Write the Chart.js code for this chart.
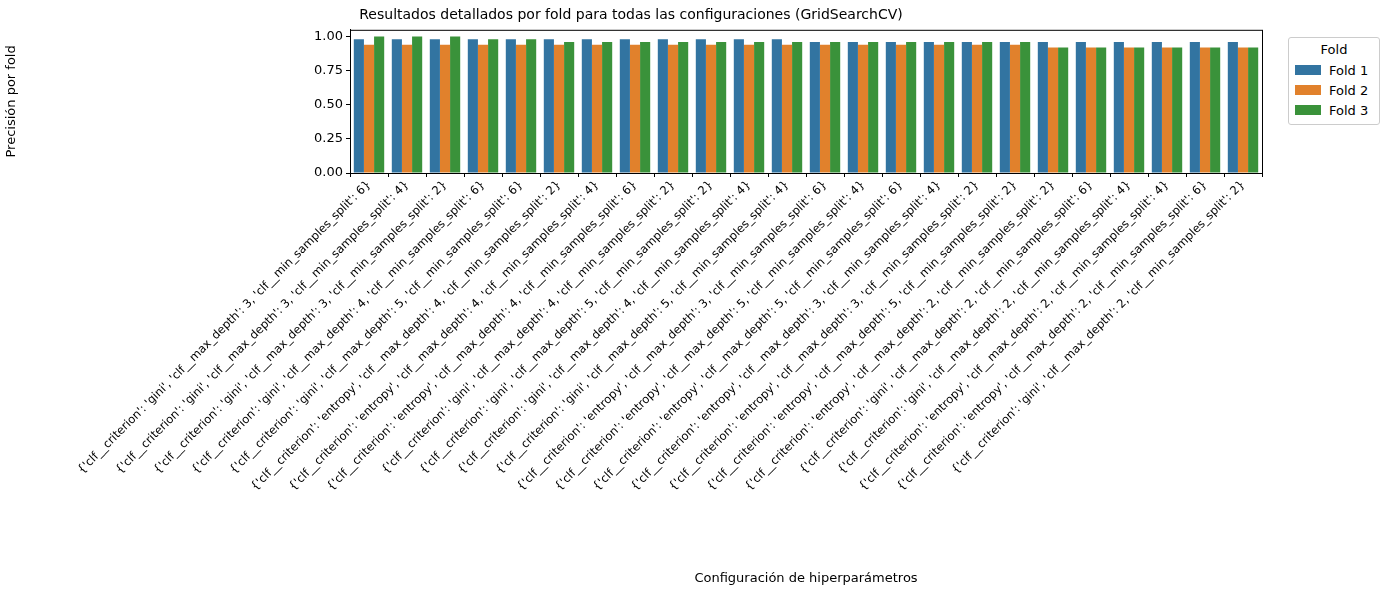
<!DOCTYPE html>
<html>
<head>
<meta charset="utf-8">
<script src="https://cdn.jsdelivr.net/npm/chart.js@4"></script>
<style>
  body { margin: 0; background: #fff; font-family: "DejaVu Sans", sans-serif; }
  #wrap { position: relative; width: 1390px; height: 590px; }
  #legend { position: absolute; left: 1288px; top: 37px; width: 92px; border: 1px solid #ccc; border-radius: 3px;
            font-size: 13px; padding: 4px 6px 4px 6px; box-sizing: border-box; background: #fff; }
  #legend .t { text-align: center; margin-bottom: 3px; }
  #legend .r { display: flex; align-items: center; height: 20px; }
  #legend .s { width: 26px; height: 10px; margin-right: 8px; }
</style>
</head>
<body>
<div id="wrap">
  <canvas id="c" width="1390" height="590"></canvas>
  <div id="legend"></div>
</div>
<script>
// configuraciones (orden del gráfico)
const criterios = ["gini","gini","gini","gini","gini","entropy","entropy","entropy","gini","gini","gini","gini",
                   "entropy","entropy","entropy","entropy","entropy","entropy","entropy","gini","gini","entropy","entropy","gini"];
const profundidades = [3,3,3,4,5,4,4,4,4,5,4,5,3,5,5,3,3,5,2,2,2,2,2,2];
const splits = [6,4,2,6,6,2,4,6,2,2,4,4,6,4,6,4,2,2,2,6,4,4,6,2];

const fold1 = [0.98,0.98,0.98,0.98,0.98,0.98,0.98,0.98,0.98,0.98,0.98,0.98,0.96,0.96,0.96,0.96,0.96,0.96,0.96,0.96,0.96,0.96,0.96,0.96];
const fold2 = [0.94,0.94,0.94,0.94,0.94,0.94,0.94,0.94,0.94,0.94,0.94,0.94,0.94,0.94,0.94,0.94,0.94,0.94,0.92,0.92,0.92,0.92,0.92,0.92];
const fold3 = [1.00,1.00,1.00,0.98,0.98,0.96,0.96,0.96,0.96,0.96,0.96,0.96,0.96,0.96,0.96,0.96,0.96,0.96,0.92,0.92,0.92,0.92,0.92,0.92];

const yTicks = [0, 0.25, 0.5, 0.75, 1.0];
const colores = ["#3274a1", "#e1812c", "#3a923a"];

const labels = criterios.map((c, i) =>
  "{'clf__criterion': '" + c + "', 'clf__max_depth': " + profundidades[i] + ", 'clf__min_samples_split': " + splits[i] + "}");

Chart.defaults.font.family = "DejaVu Sans";
Chart.defaults.font.size = 13;
Chart.defaults.color = "#000";

// leyenda en HTML, como la de matplotlib
const leg = document.getElementById("legend");
leg.innerHTML = '<div class="t">Fold</div>' + ["Fold 1","Fold 2","Fold 3"].map((n, i) =>
  '<div class="r"><span class="s" style="background:' + colores[i] + '"></span>' + n + '</div>').join("");

const ctx = document.getElementById("c").getContext("2d");
new Chart(ctx, {
  type: "bar",
  data: {
    labels: labels,
    datasets: [
      { label: "Fold 1", data: fold1, backgroundColor: colores[0] },
      { label: "Fold 2", data: fold2, backgroundColor: colores[1] },
      { label: "Fold 3", data: fold3, backgroundColor: colores[2] }
    ]
  },
  options: {
    responsive: false,
    animation: false,
    categoryPercentage: 0.8,
    barPercentage: 1.0,
    layout: { padding: { left: 0, right: 128, top: 0, bottom: 0 } },
    plugins: {
      legend: { display: false },
      tooltip: { enabled: false },
      title: { display: true, text: "Resultados detallados por fold para todas las configuraciones (GridSearchCV)",
               font: { size: 14, weight: "normal", lineHeight: 1.2 }, padding: { top: 7, bottom: 6 } }
    },
    scales: {
      x: {
        border: { color: "#000", width: 1 },
        grid: { drawOnChartArea: false, tickLength: 4, color: "#000" },
        ticks: { autoSkip: false, maxRotation: 45, minRotation: 45, padding: 1, font: { size: 11.6 } },
        title: { display: true, text: "Configuración de hiperparámetros", padding: { top: 0, bottom: 4 } },
        afterFit: axis => { axis.height = 417; }
      },
      y: {
        min: 0, max: 1.05,
        afterBuildTicks: axis => { axis.ticks = yTicks.map(v => ({ value: v })); },
        border: { color: "#000", width: 1 },
        grid: { drawOnChartArea: false, tickLength: 4, color: "#000" },
        ticks: { callback: v => v.toFixed(2) },
        title: { display: true, text: "Precisión por fold" },
        afterFit: axis => { axis.width = 350; }
      }
    }
  },
  plugins: [{
    id: "marco",
    afterDraw(chart) {
      const a = chart.chartArea, c = chart.ctx;
      c.save(); c.strokeStyle = "#000"; c.lineWidth = 1;
      c.strokeRect(a.left + 0.5, a.top + 0.5, a.right - a.left, a.bottom - a.top);
      c.restore();
    }
  }]
});
</script>
</body>
</html>
